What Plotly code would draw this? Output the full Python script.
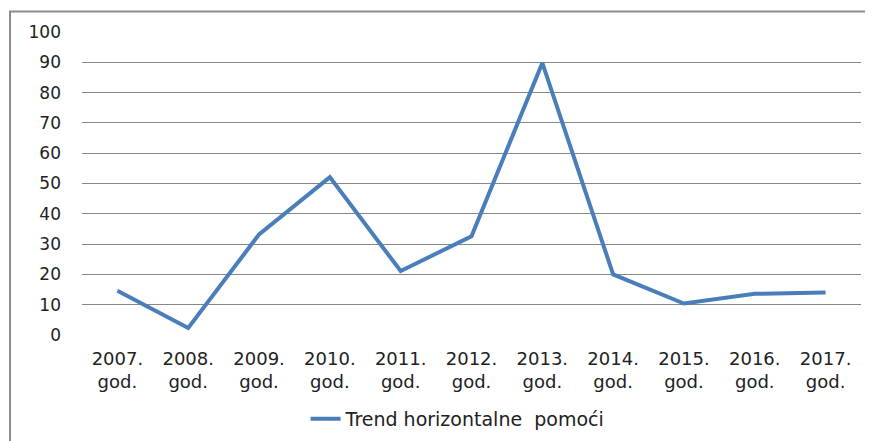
import plotly.graph_objects as go

categories = ["2007.<br>god.", "2008.<br>god.", "2009.<br>god.", "2010.<br>god.", "2011.<br>god.",
              "2012.<br>god.", "2013.<br>god.", "2014.<br>god.", "2015.<br>god.", "2016.<br>god.",
              "2017.<br>god."]
values = [14.6, 2.3, 33.2, 52.1, 21.1, 32.6, 89.8, 20.0, 10.4, 13.6, 14.0]
series_name = "Trend horizontalne\u00a0 pomoći"
y_ticks = [0, 10, 20, 30, 40, 50, 60, 70, 80, 90, 100]

fig = go.Figure()
fig.add_trace(go.Scatter(
    x=categories, y=values, mode="lines", name=series_name,
    line=dict(color="#4a7ebb", width=4),
))

font = dict(family="'DejaVu Sans', sans-serif", size=18, color="#222222")
yfont = dict(family="'DejaVu Sans', sans-serif", size=17, color="#222222")
lfont = dict(family="'DejaVu Sans', sans-serif", size=19, color="#222222")

fig.update_layout(
    width=865, height=433,
    margin=dict(l=74, r=12, t=24, b=106, autoexpand=False),
    paper_bgcolor="white", plot_bgcolor="white",
    font=font,
    showlegend=True,
    legend=dict(orientation="h", x=0.287, xanchor="left", y=-0.277, yanchor="middle",
                font=lfont, bgcolor="rgba(0,0,0,0)"),
    xaxis=dict(type="category", showgrid=False, zeroline=False, showline=False,
               tickfont=font, ticklabelstandoff=11, range=[-0.5, 10.5], automargin=False),
    yaxis=dict(range=[0, 100], tickvals=y_ticks, showgrid=True, gridcolor="#878787",
               gridwidth=1, zeroline=False, showline=False, tickfont=yfont,
               ticklabelstandoff=20, automargin=False),
    shapes=[dict(type="rect", xref="paper", yref="paper",
                 x0=-0.0924, x1=1.03, y0=-0.40, y1=1.068,
                 line=dict(color="#8c8c8c", width=2), fillcolor="rgba(0,0,0,0)",
                 layer="below")],
)

fig.write_html("out.html")
